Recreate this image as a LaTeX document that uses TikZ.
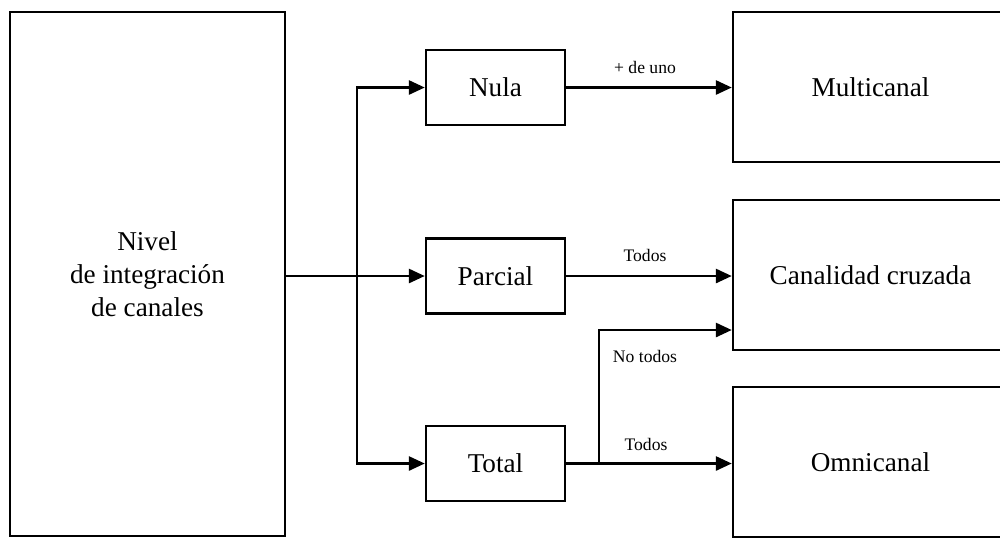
\documentclass[tikz,border=0pt]{standalone}
\usepackage{fontspec}
\setmainfont{Liberation Serif}
\usetikzlibrary{arrows.meta}
\begin{document}
\begin{tikzpicture}[x=0.5pt,y=-0.5pt,
  box/.style={draw=black,line width=1.2pt,fill=white,inner sep=0pt,font=\fontsize{13.6}{16.5}\selectfont,align=center},
  small/.style={box,minimum width=69.5pt,minimum height=37.5pt},
  big/.style={box,minimum width=137.5pt,minimum height=75pt},
  conn/.style={line width=1.4pt},
  arr/.style={conn,-{Triangle[length=8pt,width=7pt]}},
  lbl/.style={font=\fontsize{8.8}{10}\selectfont,inner sep=0pt}]
\useasboundingbox (0,0) rectangle (1000,538);
\node[box,minimum width=137.5pt,minimum height=262pt] (left) at (147.5,274) {Nivel\\de integración\\de canales};
\node[small] (nula) at (495.5,87.5) {Nula};
\node[small] (parcial) at (495.5,276) {Parcial};
\node[small] (total) at (495.5,463.5) {Total};
\node[big] (multi) at (870.5,87) {Multicanal};
\node[big] (cruz) at (870.5,275) {Canalidad cruzada};
\node[big] (omni) at (870.5,462) {Omnicanal};
\coordinate (trunk) at (357,276);
\coordinate (split) at (599,464);
\coordinate (nt) at (599,330);
\draw[arr] (left.east |- parcial.west) -- (parcial.west);
\draw[arr] (trunk |- total.west) -- (trunk |- nula.west) -- (nula.west);
\draw[arr] (trunk |- parcial.west) -- (trunk |- total.west) -- (total.west);
\draw[arr] (nula.east) -- (multi.west |- nula.east);
\draw[arr] (parcial.east) -- (cruz.west |- parcial.east);
\draw[arr] (total.east) -- (omni.west |- total.east);
\draw[arr] (split |- total.east) -- (nt) -- (cruz.west |- nt);
\node[lbl] (l1) at (645,67) {+ de uno};
\node[lbl] (l2) at (645,255) {Todos};
\node[lbl] (l3) at (645,356) {No todos};
\node[lbl] (l4) at (646,444) {Todos};
\end{tikzpicture}
\end{document}
